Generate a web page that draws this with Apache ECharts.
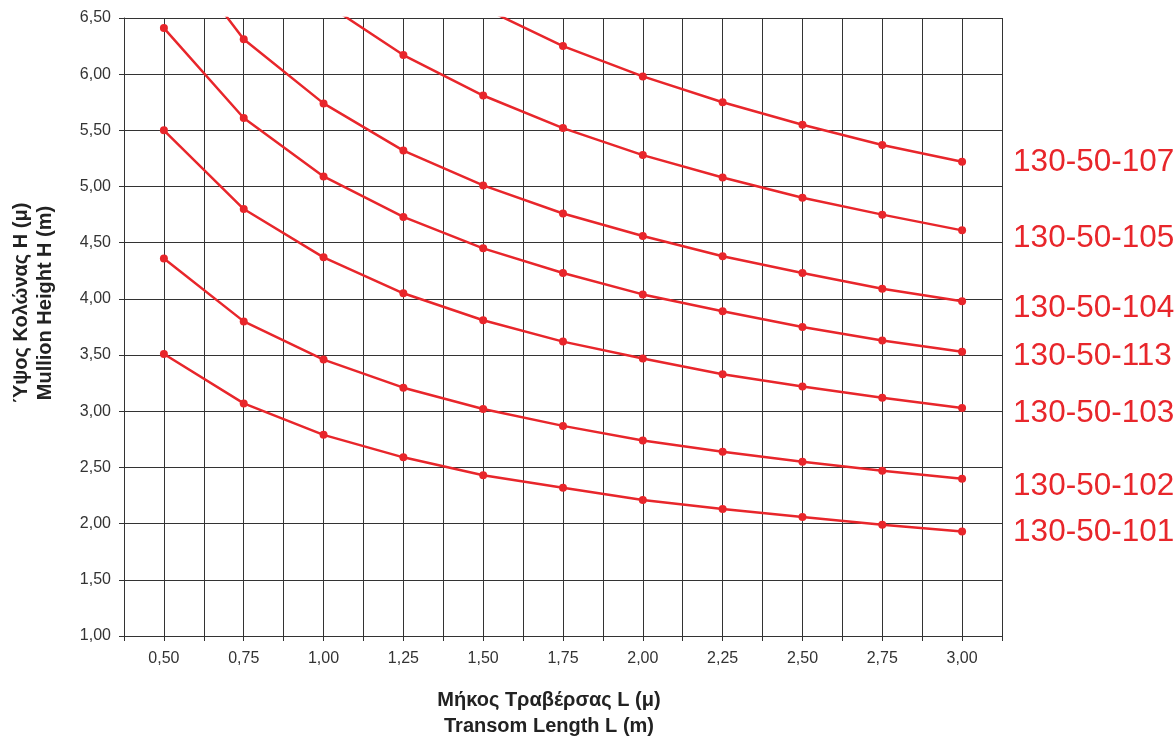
<!DOCTYPE html>
<html>
<head>
<meta charset="utf-8">
<script src="https://cdn.jsdelivr.net/npm/echarts@6/dist/echarts.min.js"></script>
<style>
html,body{margin:0;padding:0;background:#fff;}
#c{width:1176px;height:736px;}
</style>
</head>
<body>
<div id="c"></div>
<script>
// Transom length L (m)
var lengths = [0.50, 0.75, 1.00, 1.25, 1.50, 1.75, 2.00, 2.25, 2.50, 2.75, 3.00];
// Mullion height H (m) per profile (values above 6.50 are off-chart estimates)
var s101 = [3.51, 3.07, 2.79, 2.59, 2.43, 2.32, 2.21, 2.13, 2.06, 1.99, 1.93];
var s102 = [4.36, 3.80, 3.46, 3.21, 3.02, 2.87, 2.74, 2.64, 2.55, 2.47, 2.40];
var s103 = [5.50, 4.80, 4.37, 4.05, 3.81, 3.62, 3.47, 3.33, 3.22, 3.12, 3.03];
var s113 = [6.41, 5.61, 5.09, 4.73, 4.45, 4.23, 4.04, 3.89, 3.75, 3.63, 3.53];
var s104 = [7.25, 6.31, 5.74, 5.32, 5.01, 4.76, 4.56, 4.38, 4.23, 4.09, 3.98];
var s105 = [null, null, 6.64, 6.17, 5.81, 5.52, 5.28, 5.08, 4.90, 4.75, 4.61];
var s107 = [null, null, null, null, 6.59, 6.25, 5.98, 5.75, 5.55, 5.37, 5.22];
var seriesNames = ['130-50-101', '130-50-102', '130-50-103', '130-50-113', '130-50-104', '130-50-105', '130-50-107'];
var seriesValues = [s101, s102, s103, s113, s104, s105, s107];
var labelShift = [1, 8, 5, 5, 7, 8, 0];

var RED = '#e8262b';
var GRID = '#333333';
var FONT = '"Liberation Sans", Arial, sans-serif';

function fmt(v) { return v.toFixed(2).replace('.', ','); }

var chart = echarts.init(document.getElementById('c'), null, {renderer: 'canvas'});

var series = seriesValues.map(function (vals, i) {
  return {
    type: 'line',
    name: seriesNames[i],
    data: lengths.map(function (x, j) { return [x, vals[j]]; }),
    symbol: 'circle',
    symbolSize: 8,
    showAllSymbol: true,
    connectNulls: false,
    clip: true,
    lineStyle: {color: RED, width: 2.5},
    itemStyle: {color: RED},
    animation: false,
    endLabel: {
      show: true,
      formatter: seriesNames[i],
      color: RED,
      fontSize: 31.5,
      fontFamily: FONT,
      distance: 0,
      offset: [51, labelShift[i]],
      align: 'left',
      verticalAlign: 'middle'
    },
    emphasis: {disabled: true}
  };
});

chart.setOption({
  animation: false,
  backgroundColor: '#fff',
  grid: {left: 124, right: 174, top: 18, bottom: 100, containLabel: false},
  xAxis: {
    type: 'value',
    min: 0.375,
    max: 3.125,
    interval: 0.125,
    axisLine: {show: true, lineStyle: {color: GRID, width: 1}},
    axisTick: {show: true, length: 5, inside: false, lineStyle: {color: GRID}},
    splitLine: {show: true, lineStyle: {color: GRID, width: 1}},
    axisLabel: {
      color: '#333', fontSize: 16, fontFamily: FONT, margin: 15,
      showMinLabel: true, showMaxLabel: true,
      formatter: function (v) {
        var q = Math.round(v * 1000);
        if (q % 250 !== 0 || v < 0.49 || v > 3.01) return '';
        return fmt(v);
      }
    }
  },
  yAxis: {
    type: 'value',
    min: 1,
    max: 6.5,
    interval: 0.5,
    axisLine: {show: true, lineStyle: {color: GRID, width: 1}},
    axisTick: {show: true, length: 5, lineStyle: {color: GRID}},
    splitLine: {show: true, lineStyle: {color: GRID, width: 1}},
    axisLabel: {color: '#333', fontSize: 16, fontFamily: FONT, margin: 13, formatter: fmt}
  },
  graphic: [
    {
      type: 'text', x: 21, y: 303, rotation: Math.PI / 2,
      style: {text: 'Ύψος Κολώνας Η (μ)', fill: '#222', font: 'bold 20px ' + FONT, align: 'center', verticalAlign: 'middle'}
    },
    {
      type: 'text', x: 45, y: 303, rotation: Math.PI / 2,
      style: {text: 'Mullion Height H (m)', fill: '#222', font: 'bold 20px ' + FONT, align: 'center', verticalAlign: 'middle'}
    },
    {
      type: 'text', x: 549, y: 700,
      style: {text: 'Μήκος Τραβέρσας L (μ)', fill: '#222', font: 'bold 20px ' + FONT, align: 'center', verticalAlign: 'middle'}
    },
    {
      type: 'text', x: 549, y: 726,
      style: {text: 'Transom Length L (m)', fill: '#222', font: 'bold 20px ' + FONT, align: 'center', verticalAlign: 'middle'}
    }
  ],
  series: series
});
</script>
</body>
</html>
